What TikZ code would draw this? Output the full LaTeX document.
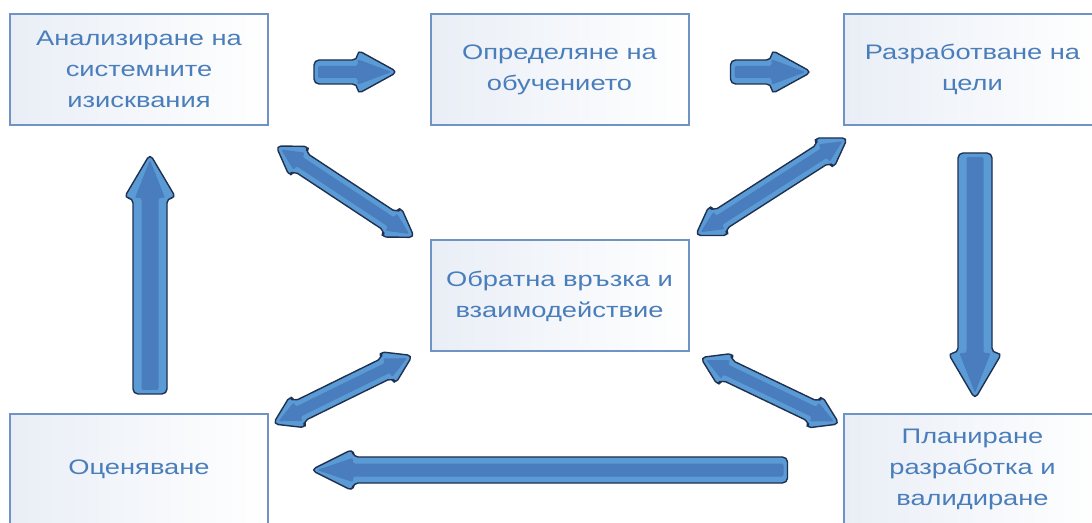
\documentclass[tikz,border=0pt]{standalone}
\usepackage{fontspec}
\setmainfont{Liberation Sans}[FakeStretch=1.3]
\usetikzlibrary{calc}

\definecolor{boxline}{HTML}{6F93C4}
\definecolor{boxshade}{HTML}{E9EEF6}
\definecolor{labelblue}{HTML}{4A7EBB}
\definecolor{arrowfill}{HTML}{5B9BD5}
\definecolor{arrowcore}{HTML}{4A7DBD}
\definecolor{arrowedge}{HTML}{1F3050}

% Block arrow between two named points.
% #1 tail, #2 tip, #3 shaft half width, #4 head half width, #5 head length (pt),
% #6 = 1 for a single arrow, 2 for a double arrow
\newcommand\blockarrow[6]{%
  \path let \p1=($(#2)-(#1)$) in
    \pgfextra{\pgfmathsetmacro\baang{atan2(\y1,\x1)}%
              \pgfmathsetmacro\balen{veclen(\x1,\y1)}%
              \xdef\baang{\baang}\xdef\balen{\balen}};
  \pgfmathsetmacro\bab{\balen-#5}%
  \pgfmathsetmacro\bas{0.5*#3}%
  \pgfmathsetmacro\bah{0.58*#4}%
  \pgfmathsetmacro\bat{\balen-3}%
  \begin{scope}[shift={(#1)},rotate=\baang,x=1pt,y=1pt]
    \ifnum#6=1
      \draw[arrowbody] (0,-#3) -- (\bab,-#3) -- (\bab,-#4) -- (\balen,0)
        -- (\bab,#4) -- (\bab,#3) -- (0,#3) -- cycle;
      \fill[arrowcore,rounded corners=1pt] (2,-\bas) -- (\bab,-\bas) -- (\bab,-\bah)
        -- (\bat,0) -- (\bab,\bah) -- (\bab,\bas) -- (2,\bas) -- cycle;
    \else
      \draw[arrowbody] (0,0) -- (#5,#4) -- (#5,#3) -- (\bab,#3) -- (\bab,#4)
        -- (\balen,0) -- (\bab,-#4) -- (\bab,-#3) -- (#5,-#3) -- (#5,-#4) -- cycle;
      \fill[arrowcore,rounded corners=1pt] (3,0) -- (#5,\bah) -- (#5,\bas) -- (\bab,\bas)
        -- (\bab,\bah) -- (\bat,0) -- (\bab,-\bah) -- (\bab,-\bas) -- (#5,-\bas)
        -- (#5,-\bah) -- cycle;
    \fi
  \end{scope}}

\begin{document}
\begin{tikzpicture}[x=0.5pt,y=-0.5pt,
  stage/.style={draw=boxline, line width=1pt, left color=boxshade, right color=white,
    minimum width=129pt, minimum height=55.5pt, inner sep=0pt, align=center,
    text=labelblue, font=\fontsize{10.5}{15.5}\selectfont},
  arrowbody/.style={fill=arrowfill, draw=arrowedge, line width=0.7pt,
    rounded corners=2.5pt, line join=round}]

  \path[use as bounding box] (0,0) rectangle (1092,523);
  \clip (0,0) rectangle (1092,523);
  \fill[white] (0,0) rectangle (1092,523);

  % stages
  \node[stage] (A) at (139,69.5)   {Анализиране на\\системните\\изисквания};
  \node[stage] (B) at (559.5,69.5) {Определяне на\\обучението};
  \node[stage] (C) at (972.5,69.5) {Разработване на\\цели};
  \node[stage] (D) at (559.5,296)  {Обратна връзка и\\взаимодействие};
  \node[stage] (E) at (139,469.5)  {Оценяване};
  \node[stage] (F) at (972.5,469.5){Планиране\\разработка и\\валидиране};

  % arrow end points
  \coordinate (ab1) at ($(A.east)+(45,2.5)$);
  \coordinate (ab2) at ($(B.west)+(-32,2.5)$);
  \coordinate (bc1) at ($(B.east)+(41,2.5)$);
  \coordinate (bc2) at ($(C.west)+(-31,2.5)$);
  \coordinate (cf1) at ($(C.south)+(2.5,27)$);
  \coordinate (cf2) at ($(F.north)+(2.5,-14)$);
  \coordinate (fe1) at ($(F.west)+(-55,0.5)$);
  \coordinate (fe2) at ($(E.east)+(42,0.5)$);
  \coordinate (ea1) at ($(E.north)+(11,-19)$);
  \coordinate (ea2) at ($(A.south)+(11,28)$);
  \coordinate (ad1) at ($(A.south east)+(7,20)$);
  \coordinate (ad2) at ($(D.north west)+(-15,-2)$);
  \coordinate (cd1) at ($(C.south west)+(5,12)$);
  \coordinate (cd2) at ($(D.north east)+(6,-4)$);
  \coordinate (de1) at ($(D.south west)+(-17,3)$);
  \coordinate (de2) at ($(E.north east)+(4,11)$);
  \coordinate (df1) at ($(D.south east)+(11,5)$);
  \coordinate (df2) at ($(F.north west)+(-3,11)$);

  % main cycle
  \blockarrow{ab1}{ab2}{6}{11}{20}{1}
  \blockarrow{bc1}{bc2}{6}{11}{20}{1}
  \blockarrow{cf1}{cf2}{8.5}{13.5}{23}{1}
  \blockarrow{fe1}{fe2}{6.5}{10.5}{21}{1}
  \blockarrow{ea1}{ea2}{8.5}{13}{22}{1}

  % feedback links with the centre
  \blockarrow{ad1}{ad2}{5.5}{9}{14}{2}
  \blockarrow{cd1}{cd2}{5.5}{9}{14}{2}
  \blockarrow{de1}{de2}{5.5}{9}{14}{2}
  \blockarrow{df1}{df2}{5.5}{9}{14}{2}
\end{tikzpicture}
\end{document}
